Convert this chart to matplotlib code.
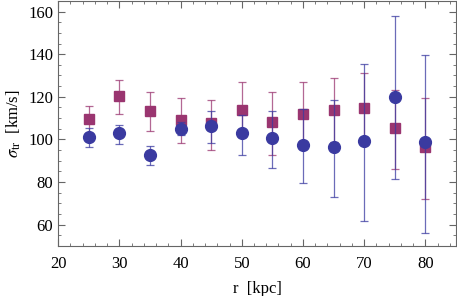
import numpy as np
import matplotlib.pyplot as plt
from matplotlib.ticker import MultipleLocator

plt.rcParams['font.family'] = ['Liberation Serif', 'DejaVu Serif']
plt.rcParams['mathtext.fontset'] = 'stix'

r = [25, 30, 35, 40, 45, 50, 55, 60, 65, 70, 75, 80]

# blue circles
blue_val = [101.3, 102.9, 92.9, 105.1, 106.5, 102.9, 100.7, 97.4, 96.3, 99.1, 120.1, 98.6]
blue_hi = [105.5, 106.8, 97.0, 108.0, 113.2, 111.6, 113.2, 114.1, 118.7, 135.6, 157.8, 139.7]
blue_lo = [96.3, 97.9, 87.8, 102.0, 98.3, 92.9, 86.6, 79.4, 72.8, 61.6, 81.4, 56.1]

# magenta squares
mag_val = [109.6, 120.2, 113.5, 109.1, 107.6, 113.8, 108.0, 112.0, 113.8, 114.6, 105.2, 96.3]
mag_hi = [115.7, 128.0, 122.3, 119.3, 118.7, 126.8, 122.4, 126.8, 128.9, 131.2, 123.2, 119.3]
mag_lo = [103.2, 112.0, 104.1, 98.2, 95.2, 101.0, 92.7, 97.5, 98.7, 98.0, 86.1, 71.9]

blue = '#3a3aa0'
mag = '#9a3570'

fig = plt.figure(figsize=(4.57, 2.96), dpi=100)
ax = fig.add_axes([0.127, 0.169, 0.871, 0.828])

def draw(x, v, lo, hi, color, marker, ms):
    v = np.array(v)
    err = [v - np.array(lo), np.array(hi) - v]
    ax.errorbar(x, v, yerr=err, fmt='none', ecolor=color, elinewidth=0.9,
                capsize=3, capthick=0.9, alpha=0.75)
    ax.plot(x, v, linestyle='none', marker=marker, ms=ms, color=color, mec=color)

draw(r, mag_val, mag_lo, mag_hi, mag, 's', 7)
draw(r, blue_val, blue_lo, blue_hi, blue, 'o', 8.5)

ax.set_xlim(20, 85)
ax.set_ylim(50, 165)
ax.xaxis.set_major_locator(MultipleLocator(10))
ax.xaxis.set_minor_locator(MultipleLocator(2))
ax.yaxis.set_major_locator(MultipleLocator(20))
ax.yaxis.set_minor_locator(MultipleLocator(5))
ax.tick_params(which='both', direction='in', top=True, right=True,
               color='#666666', labelsize=12)
ax.tick_params(which='major', length=5, width=0.8)
ax.tick_params(which='minor', length=2.5, width=0.6)
ax.tick_params(axis='x', pad=7)
for s in ax.spines.values():
    s.set_color('#666666')
    s.set_linewidth(0.8)

ax.set_xlabel('r  [kpc]', fontsize=12, labelpad=7)
ax.set_ylabel(r'$\sigma_{\rm tr}$  [km/s]', fontsize=12)

fig.savefig('out.png', dpi=100)
